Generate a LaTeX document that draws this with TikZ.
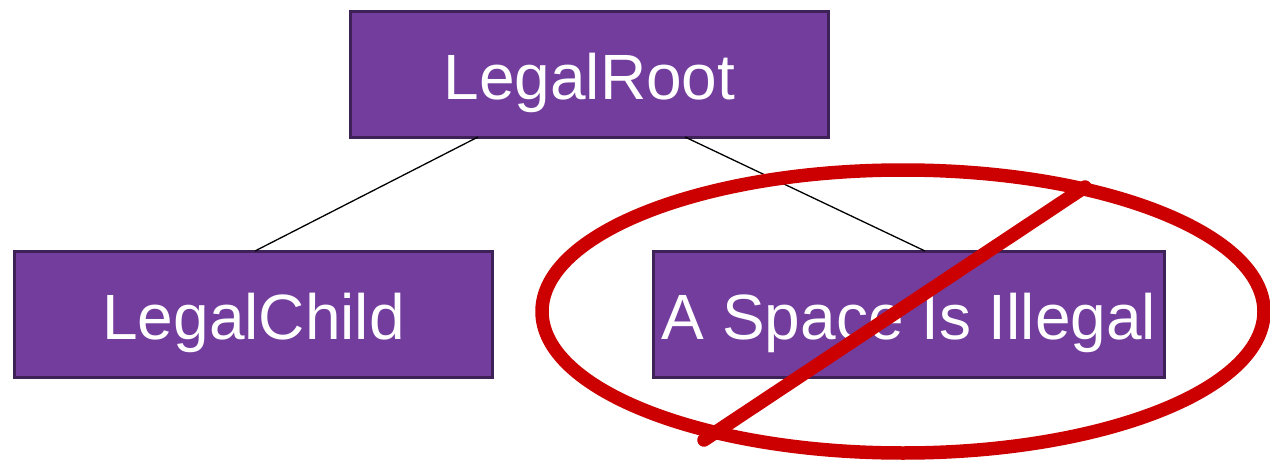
\documentclass[tikz,border=0pt]{standalone}
\usepackage{fontspec}
\setmainfont{Liberation Sans}
\definecolor{boxfill}{HTML}{733D9E}
\definecolor{boxline}{HTML}{3D2157}
\definecolor{nored}{HTML}{CC0000}
\tikzset{
  treebox/.style={draw=boxline, fill=boxfill, line width=3pt, rectangle,
    minimum width=478pt, minimum height=126pt, inner sep=0pt, outer sep=0pt,
    text=white, font=\fontsize{64}{64}\selectfont, text height=50pt, text depth=0pt},
  link/.style={draw=black, line width=1.3pt},
  forbid/.style={draw=nored, line width=13.5pt, line cap=round}
}
\begin{document}
\begin{tikzpicture}[x=1pt,y=-1pt]
\useasboundingbox (0,0) rectangle (1270,463);
\node[treebox] (root) at (589.5,74) {LegalRoot};
\node[treebox] (child) at (253.5,314) {LegalChild};
\node[treebox, minimum width=511pt] (illegal) at (909,314) {A Space Is Illegal};
\draw[link] ([xshift=-111.5pt]root.south) -- ([xshift=1.5pt]child.north);
\draw[link] ([xshift=95.5pt]root.south) -- ([xshift=16pt]illegal.north);
\coordinate (ring) at (903,311.5);
\draw[forbid] (ring) ellipse [x radius=361pt, y radius=141.5pt];
\coordinate (slashA) at (704,440);
\coordinate (slashB) at (1085,187);
\draw[forbid] (slashA) -- (slashB);
\end{tikzpicture}
\end{document}
